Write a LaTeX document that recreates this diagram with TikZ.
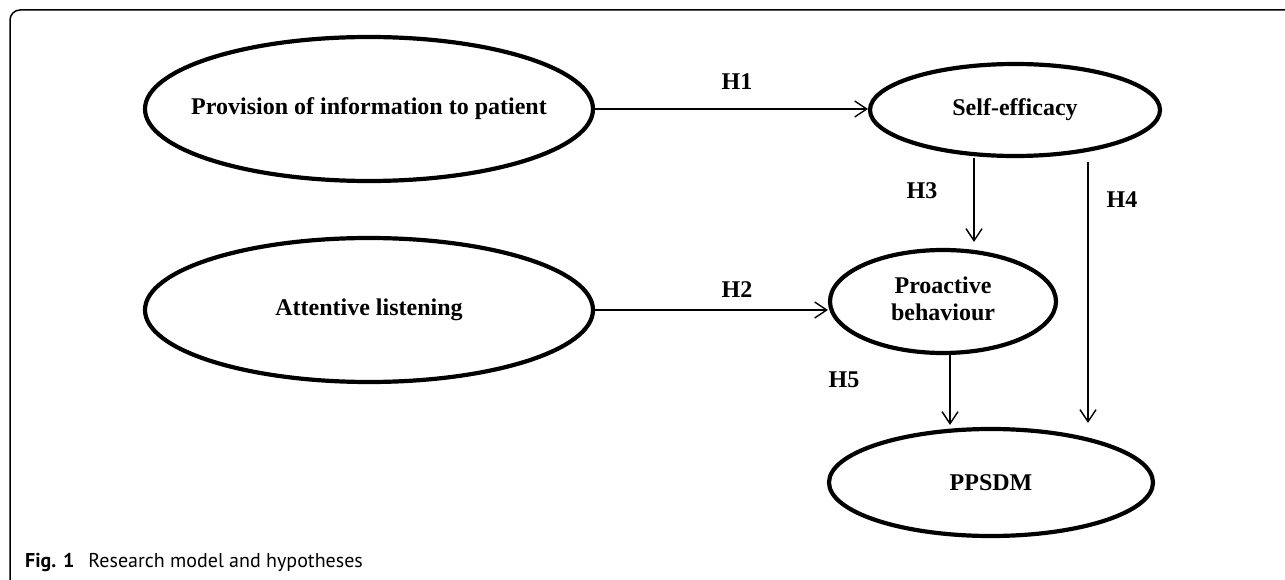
\documentclass[tikz,border=0pt]{standalone}
\usepackage{fontspec}
\setmainfont{Liberation Serif}
\newfontfamily\capfont{PT Sans}
\usetikzlibrary{shapes.geometric,arrows.meta,calc}
\newcommand{\zb}[1]{\makebox[0pt][c]{#1}}
\begin{document}
\begin{tikzpicture}[x=1pt,y=-1pt,
  ell/.style={ellipse,draw,line width=4.2pt,inner sep=0pt,
    font=\fontsize{24}{27}\selectfont\bfseries},
  arr/.style={line width=1.4pt,-{Straight Barb[length=12pt,width=16pt,line width=1.4pt]}},
  hlab/.style={font=\fontsize{24}{27}\selectfont\bfseries,inner sep=0pt},
  frame/.style={line width=1.5pt,rounded corners=10pt}]
\useasboundingbox (0,0) rectangle (1285,580);
\begin{scope}
  \clip (0,0) rectangle (1285,580);
  \draw[frame] (1300,10) -- (10,10) -- (10,590) -- (1300,590);
\end{scope}

\node[ell,minimum width=448pt,minimum height=144pt] (e1) at (369,109)
  {\zb{Provision of information to patient}};
\node[ell,minimum width=448pt,minimum height=144pt] (e2) at (369,310)
  {\zb{Attentive listening}};
\node[ell,minimum width=290pt,minimum height=92pt] (se) at (1015,110)
  {\zb{Self-efficacy}};
\node[ell,minimum width=226pt,minimum height=103pt] (pb) at (943,301.5)
  {\zb{\begin{tabular}{@{}c@{}}Proactive\\behaviour\end{tabular}}};
\node[ell,minimum width=324pt,minimum height=107pt] (pp) at (991,482.5)
  {\zb{PPSDM}};

\draw[arr] (e1.east) -- (e1.east -| se.west);
\draw[arr] (e2.east) -- (e2.east -| pb.west);
\draw[arr] ([xshift=-41pt]se.south) -- ([xshift=31pt,yshift=6pt]pb.north);
\draw[arr] ([xshift=73pt,yshift=-4pt]se.south) -- ([xshift=97pt,yshift=4pt]pp.north);
\draw[arr] ([xshift=7pt]pb.south) -- ([xshift=-41pt,yshift=2pt]pp.north);

\node[hlab] (h1) at (737,82) {H1};
\node[hlab] (h2) at (737,290) {H2};
\node[hlab] (h3) at (922,191) {H3};
\node[hlab] (h4) at (1122,200) {H4};
\node[hlab] (h5) at (844,380) {H5};

\node[anchor=base west,inner sep=0pt,font=\capfont\fontsize{20}{23}\selectfont] (cap) at (25,567)
  {\textbf{Fig. 1}\hspace{0.7em}Research model and hypotheses};
\end{tikzpicture}
\end{document}
